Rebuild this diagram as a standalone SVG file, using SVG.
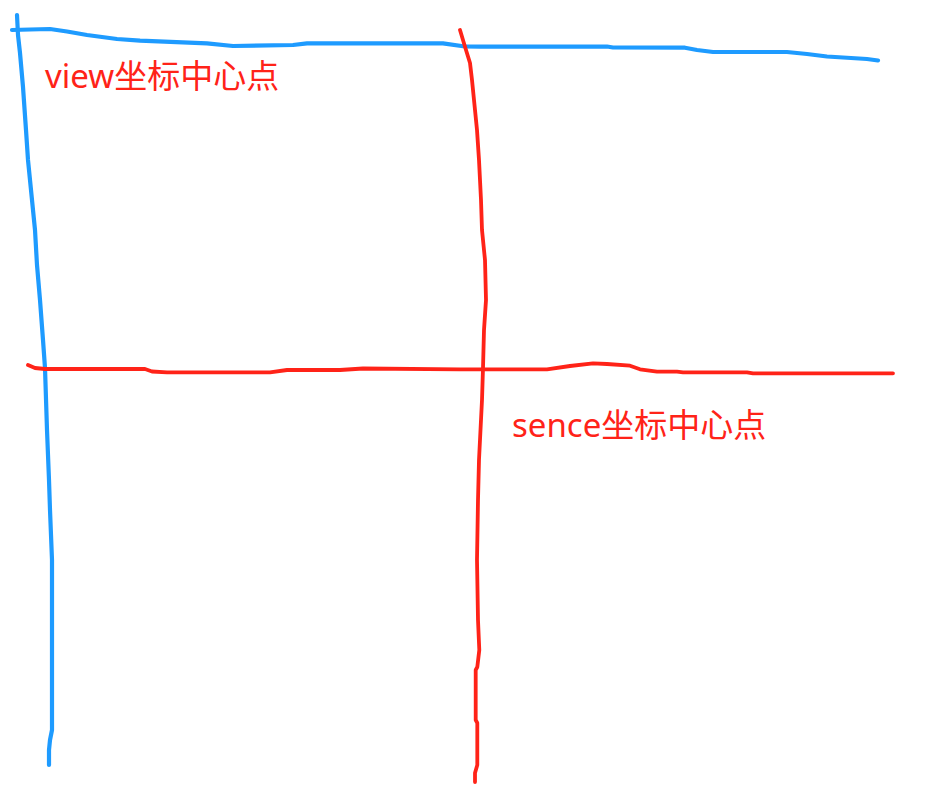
<svg xmlns="http://www.w3.org/2000/svg" width="927" height="804" viewBox="0 0 927 804">
<style>
.stroke{fill:none;stroke-linecap:round;stroke-linejoin:round}
.blue{stroke:#1E9BFF;stroke-width:4.2}
.red{stroke:#FF2318;stroke-width:3.8}
.lbl{font-family:"Noto Sans","Noto Sans CJK SC",sans-serif;font-size:33px;fill:#FF2318}
</style>
<rect width="927" height="804" fill="#ffffff"/>
<g id="view-axes">
<polyline class="stroke blue" points="12,30 30,29.5 50,29 67,31.5 87,35 117,39 140,40.7 207,43.3 233,46 293,45 307,43.3 443,43.3 465,46.5 480,46.7 607,46.5 613,47.5 685,47.7 697,50 713,52 787,52 807,54 827,56.5 867,59 878,60.5"/>
<polyline class="stroke blue" points="17,15 18,35 20,53 23,87 26,130 28,160 30,180 33,210 35,230 37,265 40,300 43,340 45,368 47,430 49,480 50,510 52,560 52,650 52,730 50,740 49,750 49,765"/>
</g>
<g id="scene-axes">
<polyline class="stroke red" points="460,30 465,46.7 470,63 472,80 474,100 477,130 479,160 481,200 482,230 485,260 486,300 484,330 483,368 482,400 479,460 478,500 477,560 478,620 479.3,650 477.3,667 475.7,670 475.7,720 477.3,723 477.3,765 475,773 475,782"/>
<polyline class="stroke red" points="28,365 35,368 45,369 145,369 152,371.5 167,372.3 270,372.3 287,370 340,370 363,368.5 460,369.3 547,369.3 570,366 593,363.3 607,364 630,365.7 640,369.3 657,371.7 677,371.7 683,372.3 747,372.3 753,373.3 893,373.3"/>
</g>
<g id="labels">
<text class="lbl" x="45" y="88">view坐标中心点</text>
<text class="lbl" x="512" y="437">sence坐标中心点</text>
</g>
</svg>
